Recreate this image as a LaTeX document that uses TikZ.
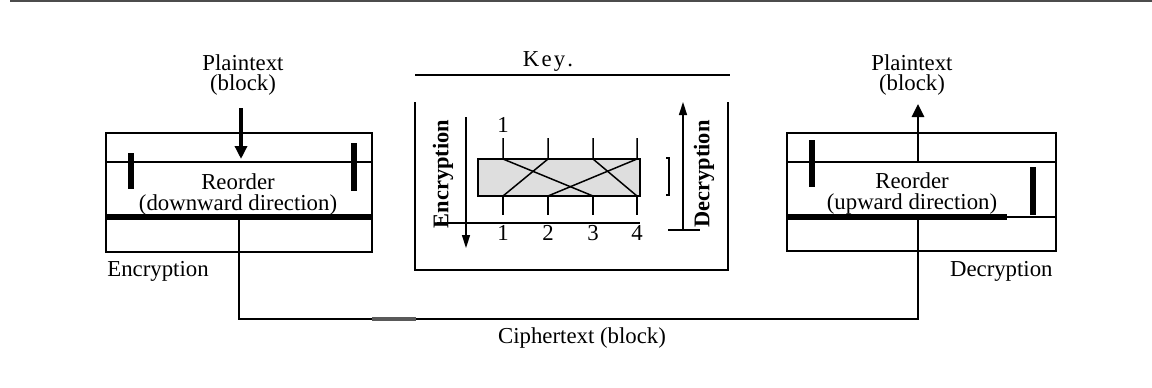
\documentclass[tikz,border=0pt]{standalone}
\usepackage{fontspec}
\setmainfont{Liberation Serif}
\usetikzlibrary{arrows.meta}
\begin{document}
\begin{tikzpicture}[
    x=0.5pt, y=-0.5pt,
    every node/.style={font=\fontsize{11.4}{10}\selectfont, inner sep=0pt, align=center},
    frame/.style={line width=0.75pt},
    thickline/.style={line width=2.6pt},
    bar/.style={line width=3.2pt},
    keybold/.style={font=\fontsize{11.2}{10}\selectfont\bfseries, rotate=90},
    tip/.style={-{Triangle[length=6.5pt,width=6pt]}}]
    \useasboundingbox (0,0) rectangle (1152,387);
    \draw[gray!60!black,line width=1pt] (10,1) -- (1152,1);

    % encryption side
    \draw[frame] (106,133) rectangle (372,252) (106,162) -- (372,162);
    \draw[thickline] (106,217) -- (372,217);
    \draw[line width=2.6pt] (131,153) -- (131,189);
    \draw[bar] (354,143) -- (354,191);
    \node (ptenc) at (243,75) {Plaintext\\(block)};
    \coordinate (encstart) at (241,108);
    \coordinate (encin) at (241,159);
    \draw[tip,line width=2pt] (encstart) -- (encin);
    \node[anchor=base] (reordenc) at (238,189) {Reorder};
    \node[anchor=base] (direnc) at (238,210) {(downward direction)};
    \node[anchor=west] (enc) at (107,271) {Encryption};

    % decryption side
    \draw[frame] (787,133) rectangle (1056,251) (787,162) -- (1056,162)
        (1007,217) -- (1056,217);
    \draw[thickline] (787,217) -- (1007,217);
    \draw[bar] (812,140) -- (812,187);
    \draw[bar] (1033,167) -- (1033,215);
    \node (ptdec) at (912,75) {Plaintext\\(block)};
    \coordinate (decout) at (918,162);
    \coordinate (decend) at (918,104);
    \draw[tip,line width=1.4pt] (decout) -- (decend);
    \node[anchor=base] (reorddec) at (912,188) {Reorder};
    \node[anchor=base] (dirdec) at (912,209) {(upward direction)};
    \node[anchor=east] (dec) at (1053,271) {Decryption};

    % ciphertext link
    \coordinate (encout) at (239,217);
    \coordinate (decin) at (918,217);
    \coordinate (cl) at (239,319);
    \coordinate (cr) at (918,319);
    \draw[frame] (encout) -- (cl) -- (cr) -- (decin);
    \draw[gray!70!black,line width=2pt] (372,319) -- (416,319);
    \node (cipher) at (582,338) {Ciphertext (block)};

    % key
    \node (key) at (548,61) {K\kern1.1pt e\kern1.1pt y\kern1.1pt .};
    \draw[frame] (415,75) -- (730,75);
    \draw[frame] (415,102) -- (415,270) -- (728,270) -- (728,102);
    \fill[black!13] (478,159) rectangle (640,196);
    \draw[frame] (478,159) rectangle (640,196);
    \foreach \t/\b in {503/593,548/503,593/637,637/548} {
        \draw[frame] (\t,138) -- (\t,159) -- (\b,196);
        \draw[frame] (\b,196) -- (\b,215);
    }
    \draw[frame] (437,223) -- (640,223);
    \foreach \n/\x in {1/503,2/548,3/593,4/637}
        \node (n\n) at (\x,233) {\n};
    \node (top1) at (503,125) {1};
    \coordinate (encA) at (466,117);
    \coordinate (encB) at (466,248);
    \draw[frame,-{Triangle[length=6.5pt,width=4pt]}] (encA) -- (encB);
    \node[keybold] (enclab) at (443,174) {Encryption};
    \draw[frame] (666,158) -- (669,158) -- (669,195) -- (666,195);
    \coordinate (decA) at (683,230);
    \coordinate (decB) at (683,102);
    \draw[frame] (668,230) -- (700,230);
    \draw[frame,-{Triangle[length=6.5pt,width=4pt]}] (decA) -- (decB);
    \node[keybold] (declab) at (704,174) {Decryption};
\end{tikzpicture}
\end{document}
